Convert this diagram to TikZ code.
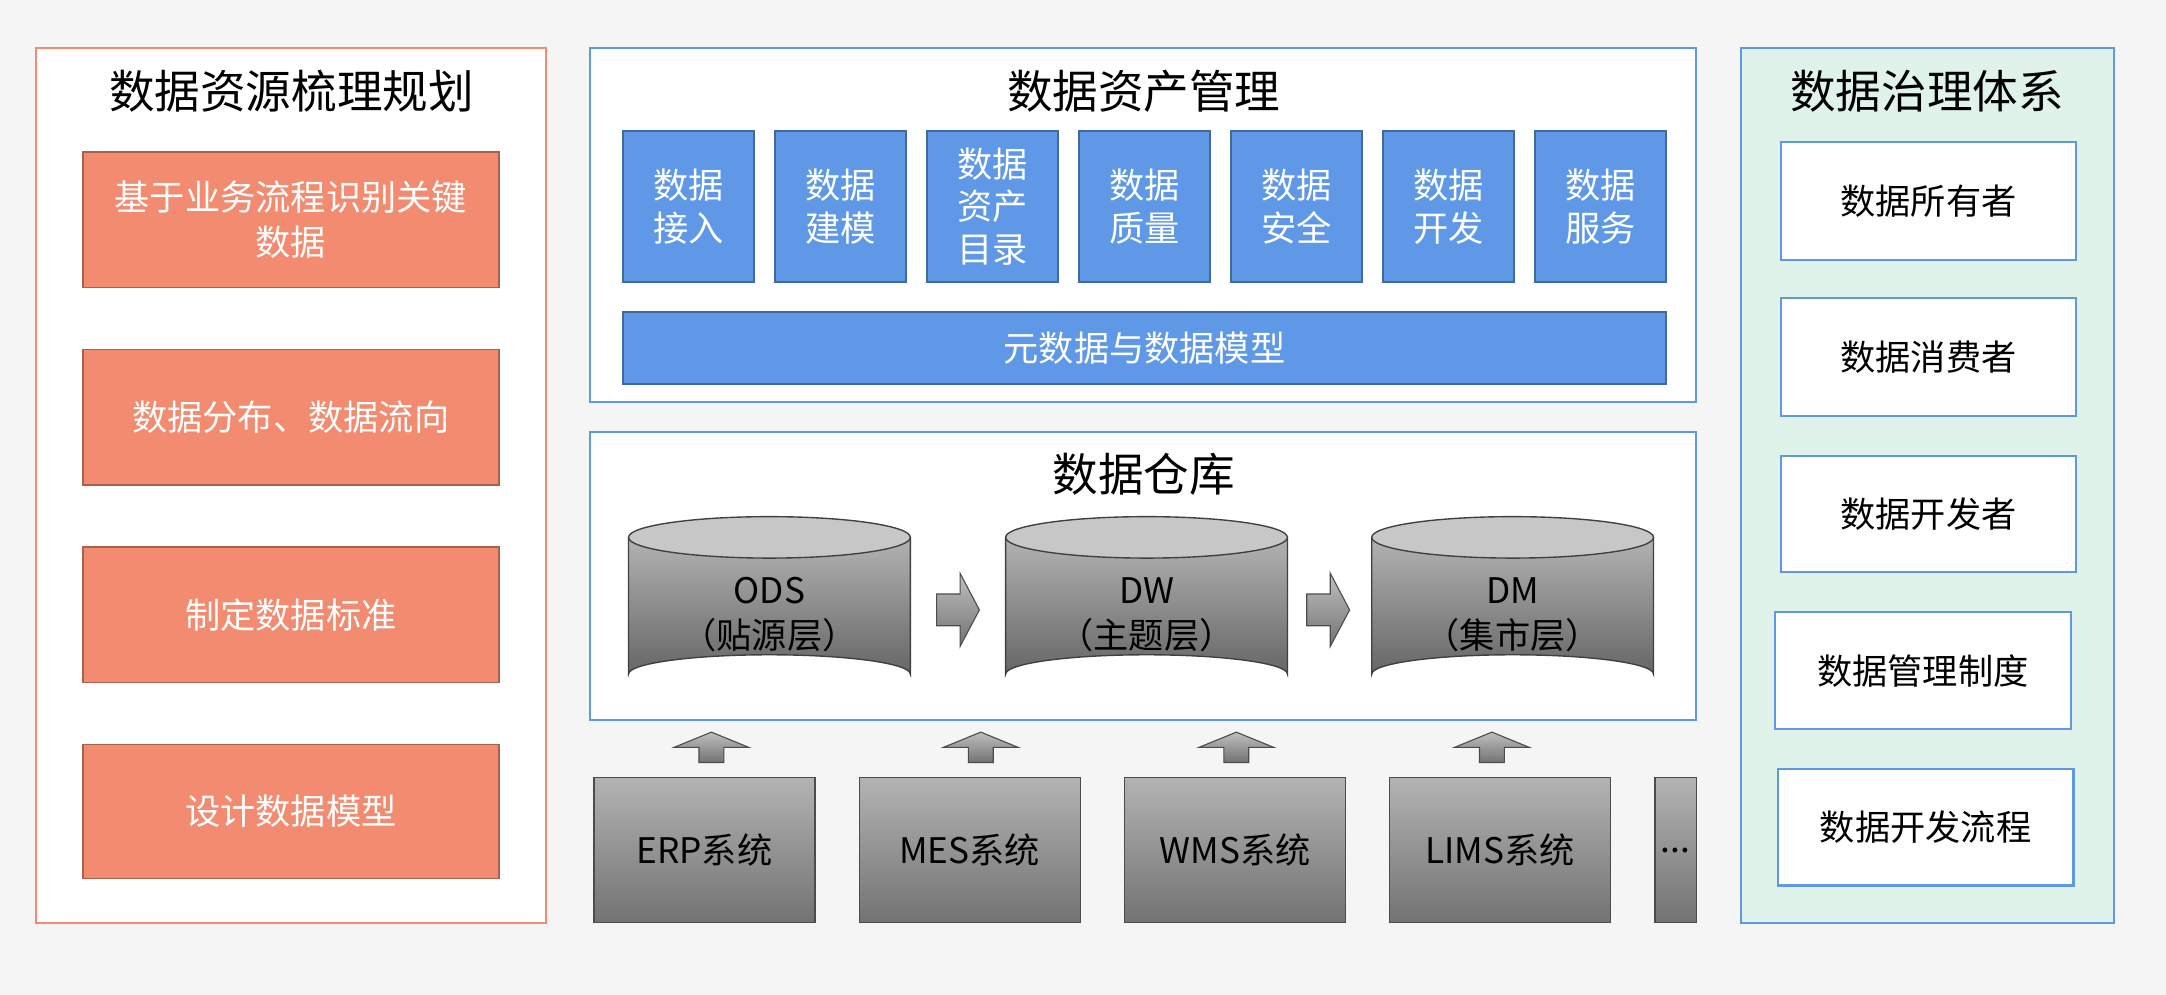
\documentclass[tikz,border=0pt]{standalone}
\usepackage{fontspec}
\setmainfont{Noto Sans CJK SC}
\begin{document}
\begin{tikzpicture}[x=1pt,y=-1pt,
 panel/.style={draw=#1,line width=1.5pt},
 ttl/.style={font=\fontsize{33}{36}\selectfont},
 sal/.style={draw=black!30!salmonc,fill=salmonc,line width=1.2pt,text=white,font=\fontsize{25.5}{33}\selectfont,align=center},
 blu/.style={draw=bluec!70!black,fill=bluec,line width=1.2pt,text=white,font=\fontsize{25.5}{31}\selectfont,align=center},
 wht/.style={draw=bluec,fill=white,line width=1.5pt,font=\fontsize{25.5}{30}\selectfont},
 sys/.style={draw=black!70,top color=black!30,bottom color=black!55,line width=1pt,font=\fontsize{25.5}{30}\selectfont},
 arr/.style={draw=black!70,top color=black!25,bottom color=black!55,line width=0.8pt},
 lbl/.style={font=\fontsize{25.5}{33}\selectfont,align=center}]
\definecolor{salmonc}{HTML}{F28B70}
\definecolor{bluec}{HTML}{5E98E6}
\definecolor{greenc}{HTML}{DFF3EA}
\useasboundingbox (0,0) rectangle (1568,720);
\fill[black!4] (0,0) rectangle (1568,720);
% left
\draw[panel=salmonc,fill=white] (26,35) rectangle (395,668);
\node[ttl] (lt) at (211,66) {数据资源梳理规划};
\node[sal,minimum width=301,minimum height=98] (l1) at (210.5,159) {基于业务流程识别关键\\数据};
\node[sal,minimum width=301,minimum height=98] (l2) at (210.5,302) {数据分布、数据流向};
\node[sal,minimum width=301,minimum height=98] (l3) at (210.5,445) {制定数据标准};
\node[sal,minimum width=301,minimum height=97] (l4) at (210.5,587.5) {设计数据模型};
% middle top
\draw[panel=bluec,fill=white] (427,35) rectangle (1228,291);
\node[ttl] (mt) at (828,66) {数据资产管理};
\foreach \x/\t/\n in {498.5/数据\\接入/b1,608.5/数据\\建模/b2,718.5/数据\\资产\\目录/b3,828.5/数据\\质量/b4,938.5/数据\\安全/b5,1048.5/数据\\开发/b6,1158.5/数据\\服务/b7}
 \node[blu,minimum width=95,minimum height=109,inner sep=0] (\n) at (\x,149.5) {\t};
\node[blu,minimum width=755,minimum height=52] (meta) at (828.5,252) {元数据与数据模型};
% warehouse
\draw[panel=bluec,fill=white] (427,313) rectangle (1228,521);
\node[ttl] (wt) at (828,343) {数据仓库};
\foreach \c/\a/\b/\n in {557/ODS/（贴源层）/ods,830/DW/（主题层）/dw,1095/DM/（集市层）/dm}{
 \shade[top color=black!30,bottom color=black!60] (\c-102,389) -- (\c-102,488) arc[start angle=180,end angle=360,x radius=102,y radius=14] -- (\c+102,389) -- cycle;
 \draw[black!75,line width=1pt] (\c-102,389) -- (\c-102,488) arc[start angle=180,end angle=360,x radius=102,y radius=14] -- (\c+102,389);
 \draw[black!75,line width=1pt,fill=black!22] (\c,389) ellipse[x radius=102,y radius=15];
 \node[lbl] (\n) at (\c,445) {\a\\\b};
}
\foreach \x in {678,946}
 \draw[arr] (\x,430) -- (\x+17,430) -- (\x+17,415) -- (\x+31,441.5) -- (\x+17,468) -- (\x+17,453) -- (\x,453) -- cycle;
\foreach \x in {515,710,895,1080}
 \draw[arr] (\x-9,552) -- (\x-9,541) -- (\x-27,541) -- (\x,530) -- (\x+27,541) -- (\x+9,541) -- (\x+9,552) -- cycle;
\foreach \x/\t/\n in {510/ERP系统/s1,702/MES系统/s2,894/WMS系统/s3,1086/LIMS系统/s4}
 \node[sys,minimum width=160,minimum height=105] (\n) at (\x,615.5) {\t};
\node[sys,minimum width=30,minimum height=105,inner sep=0] (s5) at (1213,615.5) {...};
% right
\draw[panel=bluec,fill=greenc] (1260,35) rectangle (1530,668);
\node[ttl] (rt) at (1395,66) {数据治理体系};
\node[wht,minimum width=214,minimum height=85] (r1) at (1396,145.5) {数据所有者};
\node[wht,minimum width=214,minimum height=85] (r2) at (1396,258.5) {数据消费者};
\node[wht,minimum width=214,minimum height=84] (r3) at (1396,372) {数据开发者};
\node[wht,minimum width=214,minimum height=85] (r4) at (1392,485.5) {数据管理制度};
\node[wht,minimum width=214,minimum height=84] (r5) at (1394,599) {数据开发流程};
\end{tikzpicture}
\end{document}
